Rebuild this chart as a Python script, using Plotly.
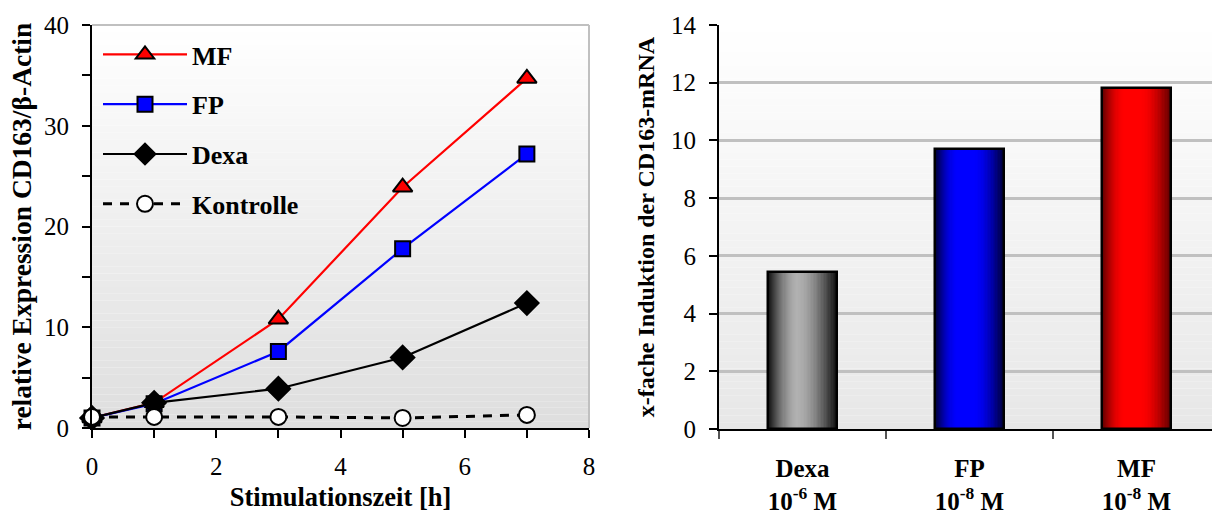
import math
import plotly.graph_objects as go

# ---- time course (left panel) ----
hours = [0, 1, 3, 5, 7]
mf_expr = [1.0, 2.5, 10.8, 23.9, 34.7]
fp_expr = [1.0, 2.4, 7.6, 17.8, 27.2]
dexa_expr = [1.0, 2.5, 3.9, 7.0, 12.4]
kontrolle_expr = [1.1, 1.1, 1.1, 1.0, 1.3]

# ---- fold induction (right panel) ----
bar_names = ["Dexa", "FP", "MF"]
bar_conc = ["10<sup>-6</sup> M", "10<sup>-8</sup> M", "10<sup>-8</sup> M"]
bar_values = [5.43, 9.7, 11.8]

SERIF = "Liberation Serif, Times New Roman, serif"

fig = go.Figure()

line_series = [
    ("MF", mf_expr, "#ff0000", dict(symbol="triangle-up", size=17, color="#ff0000"), "solid", 2.2),
    ("FP", fp_expr, "#0000ff", dict(symbol="square", size=15, color="#0000ff"), "solid", 2.2),
    ("Dexa", dexa_expr, "#000000", dict(symbol="diamond", size=18, color="#000000"), "solid", 2.2),
    ("Kontrolle", kontrolle_expr, "#000000", dict(symbol="circle", size=16, color="#ffffff"), "9px,8px", 3),
]
for name, vals, col, mk, dash, lw in line_series:
    mk = dict(mk)
    mk["line"] = dict(color="#000000", width=2)
    fig.add_trace(go.Scatter(
        x=hours, y=vals, name=name, mode="lines+markers",
        line=dict(color=col, width=lw, dash=dash), marker=mk,
        legendgroup=name, cliponaxis=False, xaxis="x", yaxis="y",
    ))

# ---- bars with a horizontal shading, built from stacked overlaid bars ----
cats = [f"<b>{n}<br>{c}</b>" for n, c in zip(bar_names, bar_conc)]
edge_col = [(18, 18, 18), (0, 0, 60), (100, 0, 0)]
centre = [(178, 178, 178), (0, 0, 255), (255, 0, 0)]
plateau = [0.95, 1.3, 1.3]
W = 0.414
PEAK = 0.42
N = 28
for k in range(N):
    t = k / N
    cols = []
    for e, c, p in zip(edge_col, centre, plateau):
        f = math.sin(math.pi / 2 * min(1.0, t * p))
        cols.append("rgb(%d,%d,%d)" % tuple(round(ev + (cv - ev) * f) for ev, cv in zip(e, c)))
    width = W * (1 - t)
    offset = -W / 2 + PEAK * W * t
    fig.add_trace(go.Bar(
        x=cats, y=bar_values, width=width, offset=offset,
        marker=dict(color=cols, line=dict(width=0)),
        showlegend=False, hoverinfo="skip", xaxis="x2", yaxis="y2",
    ))
fig.add_trace(go.Bar(
    x=cats, y=bar_values, width=W, offset=-W / 2,
    marker=dict(color="rgba(0,0,0,0)", line=dict(color="#000000", width=2.5)),
    showlegend=False, xaxis="x2", yaxis="y2",
))

# ---- subplot background shading ----
shapes = []
def shade(xr, yr, top, bottom, n=60):
    for i in range(n):
        s = (i + 0.5) / n
        c = tuple(round(b + (t - b) * s) for t, b in zip(top, bottom))
        shapes.append(dict(type="rect", xref=xr, yref=yr, x0=0, x1=1,
                           y0=i / n, y1=(i + 1) / n, fillcolor="rgb(%d,%d,%d)" % c,
                           line=dict(width=0), layer="below"))
shade("x domain", "y domain", (255, 255, 255), (222, 222, 222))
shade("x2 domain", "y2 domain", (255, 255, 255), (231, 231, 231))
# grey frame on top and right of the time-course panel
shapes.append(dict(type="line", xref="x domain", yref="y domain", x0=0, x1=1, y0=1, y1=1,
                   line=dict(color="#c0c0c0", width=2)))
shapes.append(dict(type="line", xref="x domain", yref="y domain", x0=1, x1=1, y0=0, y1=1,
                   line=dict(color="#c0c0c0", width=2)))

H = 512
WPX = 1212
tickfont = dict(family=SERIF, size=25, color="#000000")

fig.update_layout(
    width=WPX, height=H,
    margin=dict(l=0, r=0, t=0, b=0, autoexpand=False),
    paper_bgcolor="#ffffff", plot_bgcolor="rgba(0,0,0,0)",
    barmode="overlay", bargap=0,
    font=dict(family=SERIF, color="#000000"),
    shapes=shapes,
    showlegend=True,
    legend=dict(
        x=98 / WPX, y=1 - 31 / H, xanchor="left", yanchor="top",
        bgcolor="rgba(0,0,0,0)", itemwidth=84, tracegroupgap=13,
        font=dict(family=SERIF, size=26, color="#000000", weight="bold"),
    ),
    xaxis=dict(
        domain=[92 / WPX, 589 / WPX], anchor="y", range=[0, 8], dtick=2, automargin=False,
        showgrid=False, zeroline=False, showline=True, linecolor="#000000", linewidth=2,
        ticks="outside", ticklen=8, tickwidth=1.5, tickcolor="#000000",
        minor=dict(dtick=1, ticks="outside", ticklen=8, tickwidth=1.5, tickcolor="#000000"),
        tickfont=tickfont, ticklabelstandoff=7,
        title=dict(text="<b>Stimulationszeit [h]</b>", standoff=28,
                   font=dict(family=SERIF, size=26.5, color="#000000")),
    ),
    yaxis=dict(
        domain=[(H - 428) / H, (H - 25) / H], anchor="x", range=[0, 40], dtick=10, automargin=False,
        showgrid=False, zeroline=False, showline=True, linecolor="#000000", linewidth=2,
        ticks="outside", ticklen=8, tickwidth=1.5, tickcolor="#000000",
        minor=dict(dtick=5, ticks="outside", ticklen=8, tickwidth=1.5, tickcolor="#000000"),
        tickfont=tickfont, ticklabelstandoff=8,
        title=dict(text="<b>relative Expression CD163/β-Actin</b>", standoff=4,
                   font=dict(family=SERIF, size=27.5, color="#000000")),
    ),
    xaxis2=dict(
        domain=[719 / WPX, 1.0], anchor="y2", type="category", automargin=False,
        range=[-0.5, 2.452],
        showgrid=False, zeroline=False, showline=True, linecolor="#000000", linewidth=2,
        ticks="outside", tickson="boundaries", ticklen=8, tickwidth=1.5, tickcolor="#555555",
        tickfont=dict(family=SERIF, size=25, color="#000000"), ticklabelstandoff=16,
    ),
    yaxis2=dict(
        domain=[(H - 429) / H, (H - 25) / H], anchor="x2", range=[0, 14], dtick=2, automargin=False,
        showgrid=True, gridcolor="#c0c0c0", gridwidth=2.5, zeroline=False,
        showline=True, linecolor="#000000", linewidth=2,
        ticks="outside", ticklen=8, tickwidth=1.5, tickcolor="#000000",
        tickfont=tickfont, ticklabelstandoff=8,
        title=dict(text="<b>x-fache Induktion der CD163-mRNA</b>", standoff=10,
                   font=dict(family=SERIF, size=24, color="#000000")),
    ),
)

fig.write_html("out.html")
